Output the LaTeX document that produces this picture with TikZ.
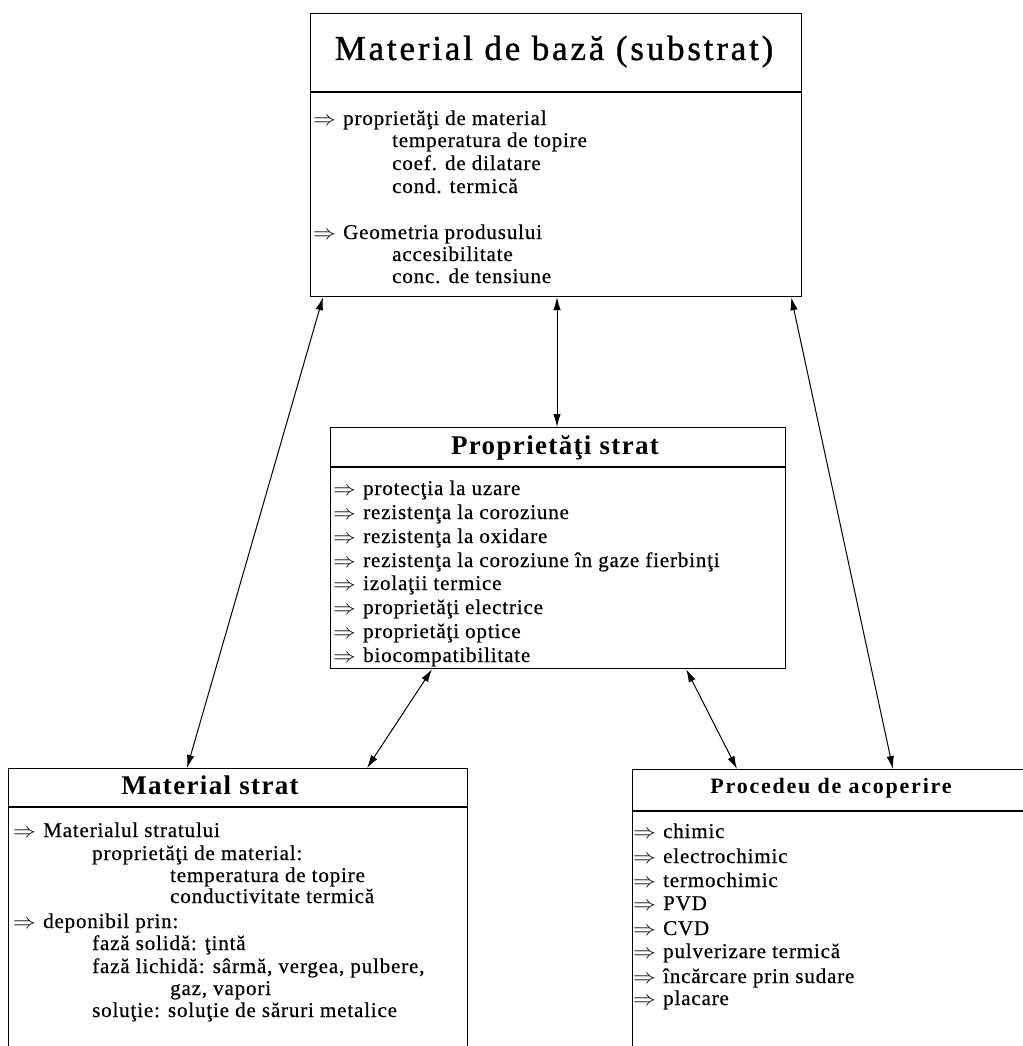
\documentclass[tikz,border=0pt]{standalone}
\usepackage{fontspec}
\setmainfont{Liberation Serif}
\newfontfamily\bodyfont[LetterSpace=4,FakeBold=0.5]{Liberation Serif}
\newfontfamily\headfont[LetterSpace=5]{Liberation Serif}
\newfontfamily\brheadfont[LetterSpace=8]{Liberation Serif}
\newfontfamily\bigheadfont[LetterSpace=8,FakeBold=1]{Liberation Serif}
\usetikzlibrary{arrows.meta,calc}
\newcommand{\myarr}{\makebox[30pt][l]{\scalebox{1.1}[1]{$\Rightarrow$}}}
\begin{document}
\begin{tikzpicture}[x=1pt,y=-1pt,
  panel/.style={draw, line width=1.2pt, inner sep=0pt, anchor=north west},
  divider/.style={line width=1.2pt},
  bodyline/.style={anchor=base west, inner sep=0pt, font=\bodyfont\fontsize{21}{24}\selectfont},
  headline/.style={anchor=base, inner sep=0pt, font=\headfont\bfseries\fontsize{27}{32}\selectfont},
  conn/.style={{Latex[length=13pt,width=7.5pt]}-{Latex[length=13pt,width=7.5pt]}, line width=1pt}]
\useasboundingbox (0,0) rectangle (1022,1046);
\fill[white] (0,0) rectangle (1022,1046);

% boxes
\node[panel, minimum width=491pt, minimum height=283pt] (top) at (310,13) {};
\node[panel, minimum width=455pt, minimum height=241pt] (mid) at (330,427) {};
\node[panel, minimum width=459pt, minimum height=290pt] (bl) at (8,768) {};
\node[panel, minimum width=400pt, minimum height=290pt] (br) at (632,769) {};

% dividers
\draw[divider] ([yshift=-79pt]top.north west) -- ([yshift=-79pt]top.north east);
\draw[divider] ([yshift=-40pt]mid.north west) -- ([yshift=-40pt]mid.north east);
\draw[divider] ([yshift=-39pt]bl.north west) -- ([yshift=-39pt]bl.north east);
\draw[divider] ([yshift=-42pt]br.north west) -- ([yshift=-42pt]br.north east);

% titles
\node[anchor=base, inner sep=0pt, font=\bigheadfont\fontsize{35}{40}\selectfont] (toptitle) at (554,60) {Material de bază (substrat)};
\node[headline] (midtitle) at (555,454) {Proprietăţi strat};
\node[headline] (bltitle) at (210,794) {Material strat};
\node[anchor=base, inner sep=0pt, font=\brheadfont\bfseries\fontsize{22}{26}\selectfont] (brtitle) at (831,793) {Procedeu de acoperire};

% top box text
\foreach \x/\y/\t [count=\i] in {
  313/125/{\myarr proprietăţi de material},
  392/147/{temperatura de topire},
  392/170/{coef. de dilatare},
  392/193/{cond. termică},
  313/239/{\myarr Geometria produsului},
  392/261/{accesibilitate},
  392/283/{conc. de tensiune}}
  \node[bodyline] (topl\i) at (\x,\y) {\t};

% middle box text
\foreach \y/\t [count=\i] in {
  495/{protecţia la uzare},
  519/{rezistenţa la coroziune},
  543/{rezistenţa la oxidare},
  567/{rezistenţa la coroziune în gaze fierbinţi},
  590/{izolaţii termice},
  614/{proprietăţi electrice},
  638/{proprietăţi optice},
  662/{biocompatibilitate}}
  \node[bodyline] (midl\i) at (333,\y) {\myarr\t};

% bottom-left text
\foreach \x/\y/\t [count=\i] in {
  13/837/{\myarr Materialul stratului},
  92/860/{proprietăţi de material:},
  170/882/{temperatura de topire},
  170/903/{conductivitate termică},
  13/928/{\myarr deponibil prin:},
  92/950/{fază solidă: ţintă},
  92/973/{fază lichidă: sârmă, vergea, pulbere,},
  170/995/{gaz, vapori},
  92/1017/{soluţie: soluţie de săruri metalice}}
  \node[bodyline] (bll\i) at (\x,\y) {\t};

% bottom-right text
\foreach \y/\t [count=\i] in {
  838/{chimic},
  863/{electrochimic},
  887/{termochimic},
  910/{PVD},
  935/{CVD},
  958/{pulverizare termică},
  983/{încărcare prin sudare},
  1005/{placare}}
  \node[bodyline] (brl\i) at (633,\y) {\myarr\t};

% connectors
\draw[conn] ([xshift=13pt]top.south west) -- ([xshift=179pt]bl.north west);
\draw[conn] ([xshift=247pt]top.south west) -- ([xshift=227pt]mid.north west);
\draw[conn] ([xshift=-11pt]top.south east) -- ([xshift=261pt]br.north west);
\draw[conn] ([xshift=102pt]mid.south west) -- ([xshift=359pt]bl.north west);
\draw[conn] ([xshift=-100pt]mid.south east) -- ([xshift=105pt]br.north west);
\end{tikzpicture}
\end{document}
